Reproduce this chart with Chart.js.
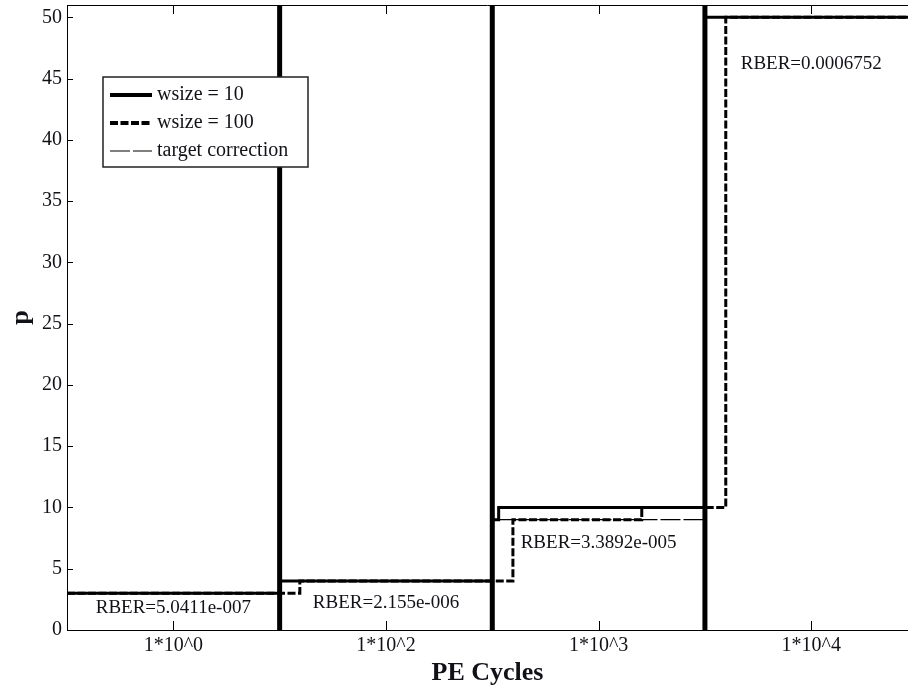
<!DOCTYPE html>
<html>
<head>
<meta charset="utf-8">
<script src="https://cdn.jsdelivr.net/npm/chart.js@4/dist/chart.umd.min.js"></script>
<style>
  body { margin: 0; background: #fff; }
  #wrap { width: 908px; height: 686px; }
</style>
</head>
<body>
<div id="wrap"><canvas id="chart" width="908" height="686"></canvas></div>
<script>
// categories on the x axis (each one spans one unit)
const categories = ["1*10^0", "1*10^2", "1*10^3", "1*10^4"];
const boundaries = [1, 2, 3];

// step lines: x where each level starts (stepped), p value of that level
const wsize10X = [0, 1, 2, 2.03, 3, 4];
const wsize10P = [3, 4, 9, 10, 50, 50];
const wsize100X = [0, 1.095, 2.097, 2.703, 3.098, 4];
const wsize100P = [3, 4, 9, 10, 50, 50];
const targetX = [0, 1, 2, 3, 4];
const targetP = [3, 4, 9, 50, 50];

// RBER notes per category, and the p value they sit at
const rberText = ["RBER=5.0411e-007", "RBER=2.155e-006", "RBER=3.3892e-005", "RBER=0.0006752"];
const rberP = [1.8, 2.2, 7.1, 46.2];

const yTicks = [0, 5, 10, 15, 20, 25, 30, 35, 40, 45, 50];
const yMax = 51;
const xMax = 3.955; // picture is cut off on the right

const serif = '"Liberation Serif", "Times New Roman", serif';

function pts(xs, ys) {
    return xs.map((x, i) => ({ x: x, y: ys[i] }));
}

const sepData = [];
boundaries.forEach(b => {
    sepData.push({ x: b, y: 0 }, { x: b, y: yMax }, { x: b, y: null });
});

const extras = {
    id: "extras",
    afterDatasetsDraw(chart) {
        const { ctx, scales: { x, y } } = chart;
        ctx.save();
        ctx.fillStyle = "#111118";
        ctx.font = "19px " + serif;
        ctx.textAlign = "center";
        ctx.textBaseline = "middle";
        rberText.forEach((t, i) => {
            ctx.fillText(t, x.getPixelForValue(i + 0.5), y.getPixelForValue(rberP[i]));
        });
        ctx.restore();
    },
    afterDraw(chart) {
        const { ctx, chartArea: a, scales: { x, y } } = chart;
        ctx.save();
        ctx.strokeStyle = "#000";
        ctx.lineWidth = 1;
        // top border
        ctx.beginPath();
        ctx.moveTo(a.left, a.top + 0.5);
        ctx.lineTo(a.right, a.top + 0.5);
        ctx.stroke();
        // inward ticks
        ctx.beginPath();
        categories.forEach((c, i) => {
            const px = Math.round(x.getPixelForValue(i + 0.5)) + 0.5;
            ctx.moveTo(px, a.bottom);
            ctx.lineTo(px, a.bottom - 9);
            ctx.moveTo(px, a.top);
            ctx.lineTo(px, a.top + 9);
        });
        yTicks.forEach(v => {
            const py = Math.round(y.getPixelForValue(v)) + 0.5;
            ctx.moveTo(a.left, py);
            ctx.lineTo(a.left + 6, py);
        });
        ctx.stroke();

        // legend box
        const lx = 103, ly = 77, lw = 205, lh = 90;
        ctx.fillStyle = "#fff";
        ctx.fillRect(lx, ly, lw, lh);
        ctx.strokeStyle = "#222";
        ctx.lineWidth = 1.5;
        ctx.strokeRect(lx, ly, lw, lh);
        const items = chart.data.datasets.filter(d => d.label);
        items.forEach((d, i) => {
            const ry = ly + 18 + i * 28;
            ctx.beginPath();
            ctx.setLineDash(d.borderDash || []);
            ctx.lineWidth = d.legendWidth;
            ctx.strokeStyle = "#000";
            ctx.moveTo(lx + 7, ry);
            ctx.lineTo(lx + 49, ry);
            ctx.stroke();
            ctx.setLineDash([]);
            ctx.fillStyle = "#111118";
            ctx.font = "20px " + serif;
            ctx.textAlign = "left";
            ctx.textBaseline = "middle";
            ctx.fillText(d.label, lx + 54, ry);
        });
        ctx.restore();
    }
};

new Chart(document.getElementById("chart"), {
    type: "line",
    data: {
        datasets: [
            {
                label: "wsize = 10",
                data: pts(wsize10X, wsize10P),
                stepped: true,
                borderColor: "#000",
                borderWidth: 3,
                legendWidth: 4,
                pointRadius: 0
            },
            {
                label: "wsize = 100",
                data: pts(wsize100X, wsize100P),
                stepped: true,
                borderColor: "#000",
                borderWidth: 3,
                borderDash: [8, 2.5],
                legendWidth: 4,
                pointRadius: 0
            },
            {
                label: "target correction",
                data: pts(targetX, targetP),
                stepped: true,
                borderColor: "#000",
                borderWidth: 1.2,
                borderDash: [20, 3],
                legendWidth: 1.2,
                pointRadius: 0
            },
            {
                label: "",
                data: sepData,
                borderColor: "#000",
                borderWidth: 5,
                spanGaps: false,
                pointRadius: 0
            }
        ]
    },
    options: {
        responsive: false,
        animation: false,
        layout: { padding: { top: 5, left: 0, right: 0, bottom: 0 } },
        plugins: { legend: { display: false }, tooltip: { enabled: false } },
        elements: { line: { borderCapStyle: "butt", borderJoinStyle: "miter", tension: 0 } },
        scales: {
            x: {
                type: "linear",
                min: 0,
                max: xMax,
                afterFit(s) { s.height = 56; s.paddingLeft = 0; s.paddingRight = 0; },
                afterBuildTicks(s) {
                    s.ticks = categories.map((c, i) => ({ value: i + 0.5 }));
                },
                grid: { display: false, drawTicks: false },
                border: { display: true, color: "#000", width: 1 },
                ticks: {
                    autoSkip: false,
                    maxRotation: 0,
                    padding: 4,
                    color: "#111118",
                    font: { family: serif, size: 20 },
                    callback: (v) => categories[Math.round(v - 0.5)]
                },
                title: {
                    display: true,
                    text: "PE Cycles",
                    color: "#111118",
                    font: { family: serif, size: 26, weight: "bold", lineHeight: 1 },
                    padding: { top: 0, bottom: 0 }
                }
            },
            y: {
                min: 0,
                max: yMax,
                afterFit(s) { s.width = 67; s.paddingTop = 0; s.paddingBottom = 0; },
                afterBuildTicks(s) {
                    s.ticks = yTicks.map(v => ({ value: v }));
                },
                grid: { display: false, drawTicks: false },
                border: { display: true, color: "#000", width: 1 },
                ticks: {
                    padding: 5,
                    color: "#111118",
                    font: { family: serif, size: 20 }
                },
                title: {
                    display: true,
                    text: "p",
                    color: "#111118",
                    font: { family: serif, size: 26, weight: "bold", lineHeight: 1 },
                    padding: { top: 8, bottom: 0 }
                }
            }
        }
    },
    plugins: [extras]
});
</script>
</body>
</html>
